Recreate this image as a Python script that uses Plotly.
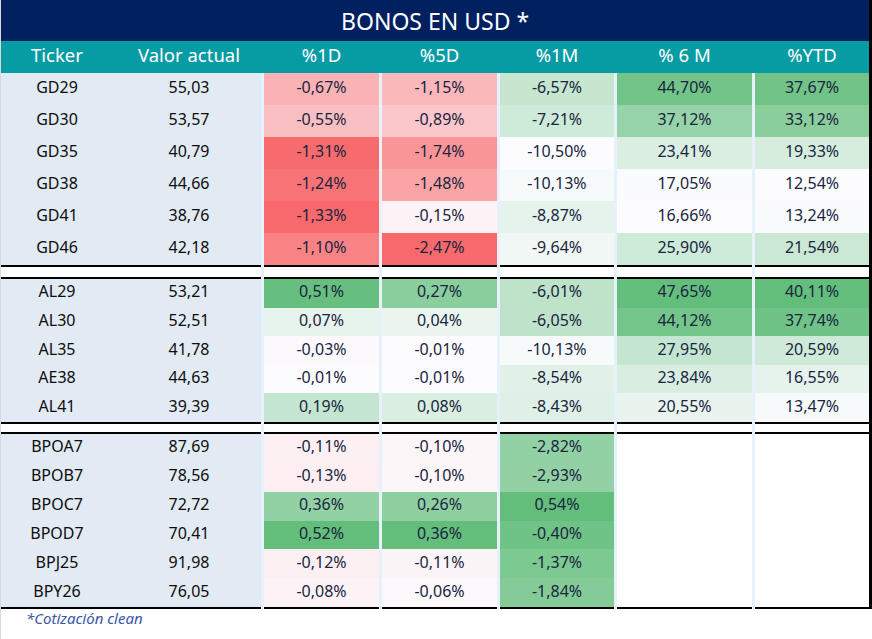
import plotly.graph_objects as go

# ---------------- data ----------------
title = "BONOS EN USD *"
footnote = "*Cotización clean"
headers = ["Ticker", "Valor actual", "%1D", "%5D", "%1M", "% 6 M", "%YTD"]

sections = [
    ["GD29", "GD30", "GD35", "GD38", "GD41", "GD46"],
    ["AL29", "AL30", "AL35", "AE38", "AL41"],
    ["BPOA7", "BPOB7", "BPOC7", "BPOD7", "BPJ25", "BPY26"],
]
tickers = [t for s in sections for t in s]
valor_actual = [55.03, 53.57, 40.79, 44.66, 38.76, 42.18,
                53.21, 52.51, 41.78, 44.63, 39.39,
                87.69, 78.56, 72.72, 70.41, 91.98, 76.05]
pct_1d = [-0.67, -0.55, -1.31, -1.24, -1.33, -1.10,
          0.51, 0.07, -0.03, -0.01, 0.19,
          -0.11, -0.13, 0.36, 0.52, -0.12, -0.08]
pct_5d = [-1.15, -0.89, -1.74, -1.48, -0.15, -2.47,
          0.27, 0.04, -0.01, -0.01, 0.08,
          -0.10, -0.10, 0.26, 0.36, -0.11, -0.06]
pct_1m = [-6.57, -7.21, -10.50, -10.13, -8.87, -9.64,
          -6.01, -6.05, -10.13, -8.54, -8.43,
          -2.82, -2.93, 0.54, -0.40, -1.37, -1.84]
pct_6m = [44.70, 37.12, 23.41, 17.05, 16.66, 25.90,
          47.65, 44.12, 27.95, 23.84, 20.55,
          None, None, None, None, None, None]
pct_ytd = [37.67, 33.12, 19.33, 12.54, 13.24, 21.54,
           40.11, 37.74, 20.59, 16.55, 13.47,
           None, None, None, None, None, None]

# ---------------- styles / layout ----------------
W, H = 872, 639
NAVY = "#002060"
TEAL = "#079CA4"
LEFT_BG = "#E2EAF4"
GAP = "#E6F1FB"
TXT = "#1A2540"
RED, MID, GREEN = (248, 105, 107), (252, 252, 255), (99, 190, 123)
FONT = "Noto Sans"

left_span = (0, 261)
ticker_cx, valor_cx = 57, 189
col_spans = [(264, 379), (382, 497), (500, 614), (617, 752), (755, 869)]
table_right = 869
title_y = (0, 41)
header_y = (41, 73)
sec_bounds = [(73, 265), (279, 422), (434, 607)]
line_w = 2


def mix(c1, c2, t):
    t = max(0.0, min(1.0, t))
    return "rgb(%d,%d,%d)" % tuple(round(a + (b - a) * t) for a, b in zip(c1, c2))


def diverging(vals):
    lo, hi = min(vals), max(vals)
    out = []
    for v in vals:
        if v < 0:
            out.append(mix(MID, RED, v / lo))
        else:
            out.append(mix(MID, GREEN, v / hi if hi else 0))
    return out


def sequential(vals):
    present = [v for v in vals if v is not None]
    lo, hi = min(present), max(present)
    return ["#FFFFFF" if v is None else mix(MID, GREEN, (v - lo) / (hi - lo)) for v in vals]


def fmt(v, pct=True):
    if v is None:
        return ""
    s = f"{v:.2f}".replace(".", ",")
    return s + "%" if pct else s


# row geometry
row_c, row_h = [], []
for (y0, y1), names in zip(sec_bounds, sections):
    h = (y1 - y0) / len(names)
    for i in range(len(names)):
        row_c.append(y0 + h * (i + 0.5))
        row_h.append(h)

fig = go.Figure()

value_cols = [pct_1d, pct_5d, pct_1m, pct_6m, pct_ytd]
color_cols = [diverging(pct_1d), diverging(pct_5d), sequential(pct_1m),
              sequential(pct_6m), sequential(pct_ytd)]

n = len(tickers)
fig.add_trace(go.Bar(orientation="h", y=row_c, width=row_h,
                     x=[left_span[1] - left_span[0]] * n, base=[left_span[0]] * n,
                     marker=dict(color=LEFT_BG, line=dict(width=0)),
                     hoverinfo="skip", showlegend=False))
for (x0, x1), cols in zip(col_spans, color_cols):
    fig.add_trace(go.Bar(orientation="h", y=row_c, width=row_h,
                         x=[x1 - x0] * n, base=[x0] * n,
                         marker=dict(color=cols, line=dict(width=0)),
                         hoverinfo="skip", showlegend=False))

fig.add_trace(go.Scatter(x=[ticker_cx] * n, y=row_c, mode="text", text=tickers,
                         textfont=dict(family=FONT, size=16, color="#0D0D0D"),
                         hoverinfo="skip", showlegend=False))
fig.add_trace(go.Scatter(x=[valor_cx] * n, y=row_c, mode="text",
                         text=[fmt(v, False) for v in valor_actual],
                         textfont=dict(family=FONT, size=16, color="#0D0D0D"),
                         hoverinfo="skip", showlegend=False))
for (x0, x1), vals in zip(col_spans, value_cols):
    fig.add_trace(go.Scatter(x=[(x0 + x1) / 2] * n, y=row_c, mode="text",
                             text=[fmt(v) for v in vals],
                             textfont=dict(family=FONT, size=16, color=TXT),
                             hoverinfo="skip", showlegend=False))

hdr_x = [ticker_cx, valor_cx] + [(a + b) / 2 for a, b in col_spans]
hdr_yc = (header_y[0] + header_y[1]) / 2
fig.add_trace(go.Scatter(x=hdr_x, y=[hdr_yc] * len(hdr_x), mode="text", text=headers,
                         textfont=dict(family=FONT, size=18.5, color="white"),
                         hoverinfo="skip", showlegend=False))

shapes = []
shapes.append(dict(type="rect", xref="x", yref="y", x0=0, x1=table_right,
                   y0=header_y[1], y1=sec_bounds[-1][1] + line_w,
                   fillcolor=GAP, line_width=0, layer="below"))
shapes.append(dict(type="rect", xref="x", yref="y", x0=1, x1=table_right,
                   y0=title_y[0], y1=title_y[1], fillcolor=NAVY, line_width=0, layer="below"))
shapes.append(dict(type="rect", xref="x", yref="y", x0=1, x1=table_right,
                   y0=header_y[0], y1=header_y[1], fillcolor=TEAL, line_width=0, layer="below"))
spans = [left_span] + col_spans
for (a0, a1), (b0, b1) in zip(sec_bounds[:-1], sec_bounds[1:]):
    for x0, x1 in spans:
        shapes.append(dict(type="rect", xref="x", yref="y", x0=x0, x1=x1,
                           y0=a1 + line_w, y1=b0 - line_w, fillcolor="white", line_width=0))
        shapes.append(dict(type="rect", xref="x", yref="y", x0=x0, x1=x1,
                           y0=a1, y1=a1 + line_w, fillcolor="black", line_width=0))
        shapes.append(dict(type="rect", xref="x", yref="y", x0=x0, x1=x1,
                           y0=b0 - line_w, y1=b0, fillcolor="black", line_width=0))
last = sec_bounds[-1][1]
for x0, x1 in spans:
    shapes.append(dict(type="rect", xref="x", yref="y", x0=x0, x1=x1,
                       y0=last, y1=last + line_w, fillcolor="black", line_width=0))
shapes.append(dict(type="rect", xref="x", yref="y", x0=table_right, x1=W,
                   y0=0, y1=last + line_w, fillcolor="black", line_width=0))
shapes.append(dict(type="line", xref="x", yref="y", x0=0.5, x1=0.5, y0=0, y1=H,
                   line=dict(color="#D9D9D9", width=1)))

annotations = [
    dict(x=(1 + table_right) / 2, y=(title_y[0] + title_y[1]) / 2, xref="x", yref="y",
         text=title, showarrow=False,
         font=dict(family=FONT, size=23, color="white")),
    dict(x=24, y=618, xref="x", yref="y", text="<i>" + footnote + "</i>",
         showarrow=False, xanchor="left",
         font=dict(family=FONT, size=15, color="#3A56A8")),
]

fig.update_layout(
    width=W, height=H, margin=dict(l=0, r=0, t=0, b=0),
    paper_bgcolor="white", plot_bgcolor="white",
    barmode="overlay", bargap=0,
    xaxis=dict(range=[0, W], visible=False, fixedrange=True),
    yaxis=dict(range=[H, 0], visible=False, fixedrange=True),
    shapes=shapes, annotations=annotations,
)

fig.write_html("out.html", config={"displayModeBar": False})

# remove the browser's default page margin so the figure fills the window
with open("out.html", encoding="utf-8") as f:
    html = f.read()
html = html.replace("<head>", "<head><style>html,body{margin:0;padding:0;overflow:hidden;}</style>", 1)
with open("out.html", "w", encoding="utf-8") as f:
    f.write(html)
